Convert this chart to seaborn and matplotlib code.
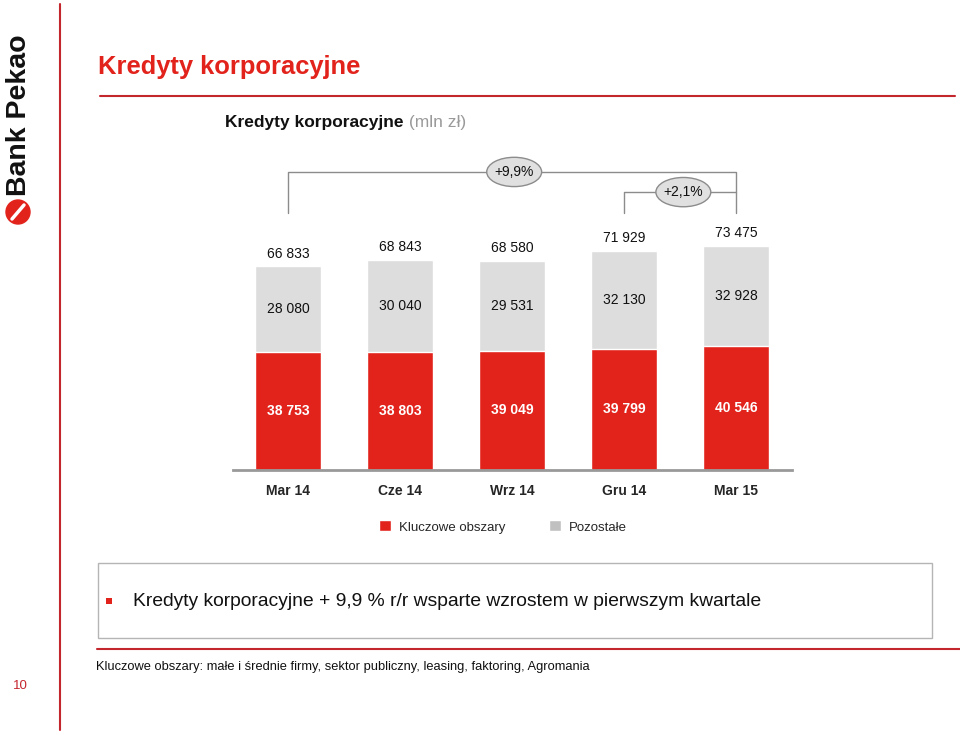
import matplotlib
matplotlib.use("Agg")
import matplotlib.pyplot as plt
from matplotlib.patches import Patch, Ellipse, Rectangle, Circle
import pandas as pd
import seaborn as sns

# Data (mln zł)
categories = ["Mar 14", "Cze 14", "Wrz 14", "Gru 14", "Mar 15"]
kluczowe = [38753, 38803, 39049, 39799, 40546]
pozostale = [28080, 30040, 29531, 32130, 32928]
totals = [66833, 68843, 68580, 71929, 73475]
growth_labels = ["+9,9%", "+2,1%"]

RED = "#e2231c"
GRAY = "#dddddd"
DARKRED = "#c4262e"

sns.set_theme(style="white")
plt.rcParams["font.family"] = ["Liberation Sans", "DejaVu Sans"]

df = pd.DataFrame({"Okres": categories, "Kluczowe obszary": kluczowe,
                   "Pozostałe": pozostale, "Razem": totals})

W, H = 960, 734
fig = plt.figure(figsize=(W / 100, H / 100), dpi=100)

# bar axes: baseline at y=470 px, x from 233 to 792 px
ax = fig.add_axes([233 / W, (H - 470) / H, 559 / W, 244 / H])
sns.barplot(data=df, x="Okres", y="Razem", color=GRAY, saturation=1, width=0.59, ax=ax)
sns.barplot(data=df, x="Okres", y="Kluczowe obszary", color=RED, saturation=1, width=0.59, ax=ax)
ax.set_xlim(-0.49, 4.5)
ax.set_ylim(0, 80000)
ax.set_xlabel("")
ax.set_ylabel("")
ax.set_yticks([])
for s in ["left", "top", "right"]:
    ax.spines[s].set_visible(False)
ax.spines["bottom"].set_color("#999999")
ax.spines["bottom"].set_linewidth(2)
ax.tick_params(axis="x", length=0, pad=10)
for lbl in ax.get_xticklabels():
    lbl.set_fontweight("bold")
    lbl.set_fontsize(10)

for i in range(len(categories)):
    ax.text(i, kluczowe[i] / 2, f"{kluczowe[i]:,}".replace(",", " "), ha="center", va="center",
            color="white", fontsize=10, fontweight="bold")
    ax.text(i, (kluczowe[i] + totals[i]) / 2, f"{pozostale[i]:,}".replace(",", " "), ha="center",
            va="center", color="#111111", fontsize=10)
    ax.annotate(f"{totals[i]:,}".replace(",", " "), (i, totals[i]), xytext=(0, 4),
                textcoords="offset points", ha="center", va="bottom", color="#111111", fontsize=10)

# growth brackets
top = max(totals)
y_big = top * 1.33
y_small = top * 1.24
y_low = top * 1.145
lc = "#8c8c8c"
ax.plot([0, 0, 4, 4], [y_low, y_big, y_big, y_low], color=lc, lw=1, clip_on=False)
ax.plot([3, 3, 4], [y_low, y_small, y_small], color=lc, lw=1, clip_on=False)
for (cx, cy), txt in zip([(2.02, y_big), (3.53, y_small)], growth_labels):
    ax.add_patch(Ellipse((cx, cy), 0.49, 9600, facecolor="#e0e0e0", edgecolor=lc, lw=1,
                         clip_on=False, zorder=3))
    ax.text(cx, cy, txt, ha="center", va="center", fontsize=10, color="#111111", zorder=4)

handles = [Patch(facecolor=RED, label="Kluczowe obszary"), Patch(facecolor="#c0c0c0", label="Pozostałe")]
ax.legend(handles=handles, loc="center", bbox_to_anchor=(503 / W, (H - 527) / H),
          bbox_transform=fig.transFigure, ncol=2, frameon=False, fontsize=9.5,
          handlelength=0.9, handleheight=0.9, handletextpad=0.6, columnspacing=3.3)

# slide decoration in pixel coordinates
ov = fig.add_axes([0, 0, 1, 1], facecolor="none")
ov.set_xlim(0, W)
ov.set_ylim(H, 0)
ov.axis("off")

ov.plot([60, 60], [4, 730], color=DARKRED, lw=1.5)
ov.plot([100, 955], [96, 96], color=DARKRED, lw=1.5)
ov.plot([97, 960], [649, 649], color=DARKRED, lw=1.5)

ov.text(98, 67, "Kredyty korporacyjne", color=RED, fontsize=18.4, fontweight="bold", va="center")
t = ov.text(225, 123, "Kredyty korporacyjne", color="#111111", fontsize=12.5, fontweight="bold", va="center")
ov.annotate(" (mln zł)", xycoords=t, xy=(1, 0.5), va="center", ha="left", color="#9a9a9a", fontsize=12.5)

# logo
ov.text(19, 115, "Bank Pekao", rotation=90, ha="center", va="center", fontsize=20.5,
        fontweight="bold", color="#111111")
ov.add_patch(Circle((18, 212), 12, color=RED))
ov.plot([12, 24], [219, 205], color="white", lw=2.5)

# comment box
ov.add_patch(Rectangle((98, 563), 834, 75, facecolor="white", edgecolor="#b5b5b5", lw=1))
ov.add_patch(Rectangle((106, 598), 6, 6, facecolor=RED, edgecolor="none"))
ov.text(133, 602, "Kredyty korporacyjne + 9,9 % r/r wsparte wzrostem w pierwszym kwartale",
        fontsize=13.9, va="center", color="#111111")

ov.text(96, 667, "Kluczowe obszary: małe i średnie firmy, sektor publiczny, leasing, faktoring, Agromania",
        fontsize=9.3, va="center", color="#111111")
ov.text(20, 686, "10", color=DARKRED, fontsize=9.5, ha="center", va="center")

fig.savefig("out.png", dpi=100)
